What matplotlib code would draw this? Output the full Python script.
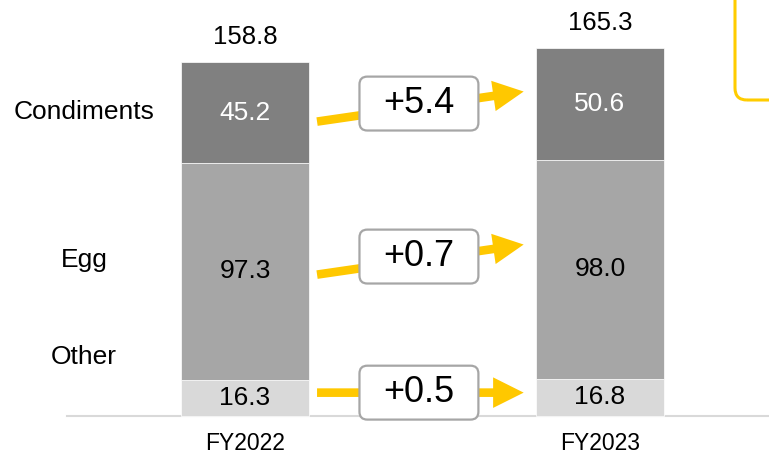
import matplotlib.pyplot as plt
from matplotlib.patches import FancyBboxPatch
from matplotlib.transforms import IdentityTransform

plt.rcParams['font.family'] = ['Liberation Sans', 'DejaVu Sans']

# data
years = ['FY2022', 'FY2023']
segments = ['Other', 'Egg', 'Condiments']
other = [16.3, 16.8]
egg = [97.3, 98.0]
condiments = [45.2, 50.6]
totals = [158.8, 165.3]
changes = ['+0.5', '+0.7', '+5.4']

colors = ['#D9D9D9', '#A6A6A6', '#808080']
text_colors = ['black', 'black', 'white']
yellow = '#FFC800'

# layout (data units): arrow start/end heights, side label heights
arrow_y = [(10.5, 10.5), (63.5, 77.0), (132.2, 145.7)]
side_label_y = [26.3, 70.0, 136.7]

fig = plt.figure(figsize=(7.69, 4.55), dpi=100)
ax = fig.add_axes([0, 0, 1, 1])
ax.set_xlim(-0.690, 1.476)
ax.set_ylim(-17.5, 186.8)
ax.axis('off')

x = [0, 1]
width = 0.36
bottom = [0, 0]
for name, vals, c, tc in zip(segments, [other, egg, condiments], colors, text_colors):
    ax.bar(x, vals, width, bottom=bottom, color=c, edgecolor='white', linewidth=0.5)
    for xi, v, b in zip(x, vals, bottom):
        ax.text(xi, b + v / 2, f'{v:.1f}', ha='center', va='center', fontsize=19, color=tc)
    bottom = [b + v for b, v in zip(bottom, vals)]

for xi, t in zip(x, totals):
    ax.annotate(f'{t:.1f}', (xi, t), xytext=(0, 18), textcoords='offset points',
                ha='center', va='center', fontsize=18.5)

for xi, yr in zip(x, years):
    ax.text(xi, -12.4, yr, ha='center', va='center', fontsize=16.5)

ax.axhline(0, xmin=67 / 769, xmax=1, color='#D9D9D9', lw=1.5, zorder=0)

for name, ly in zip(segments, side_label_y):
    ax.text(-0.4535, ly, name, ha='center', va='center', fontsize=19)

# change arrows with boxed labels
x0 = width / 2 + 0.023
x1 = 1 - width / 2 - 0.035
bw, bh = 0.335, 24.2
for (y0, y1), lab in zip(arrow_y, changes):
    ax.annotate('', xy=(x1, y1), xytext=(x0, y0),
                arrowprops=dict(arrowstyle='simple,head_length=2.2,head_width=2.2,tail_width=0.62',
                                lw=0, color=yellow, shrinkA=0, shrinkB=0,
                                mutation_scale=10))
    cx = 0.49
    cy = (y0 + y1) / 2 + (y1 - y0) * 0.1
    box = FancyBboxPatch((cx - bw / 2, cy - bh / 2), bw, bh,
                         boxstyle='round,pad=0,rounding_size=0.022',
                         mutation_aspect=160, fc='white', ec='#A6A6A6', lw=1.6, zorder=3)
    ax.add_patch(box)
    ax.text(cx, cy, lab, ha='center', va='center', fontsize=26, zorder=4)

# partial callout box at top right
callout = FancyBboxPatch((735, 355), 80, 130, boxstyle='round,pad=0,rounding_size=12',
                         fc='none', ec='#FFCC00', lw=2.2, transform=IdentityTransform())
fig.patches.append(callout)

fig.savefig('out.png', dpi=100)
